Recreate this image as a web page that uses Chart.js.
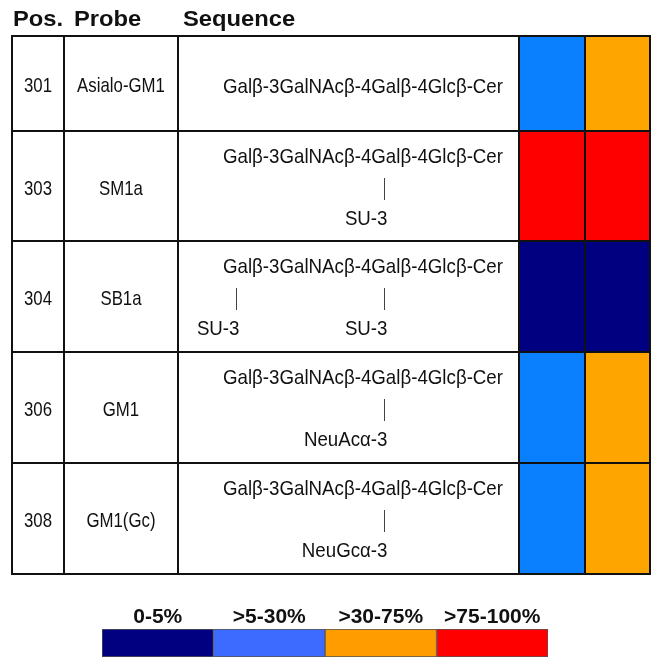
<!DOCTYPE html>
<html>
<head>
<meta charset="utf-8">
<script src="https://cdn.jsdelivr.net/npm/chart.js@4/dist/chart.umd.min.js"></script>
<style>
  html, body { margin: 0; padding: 0; background: #fff; }
  #wrap { position: relative; width: 662px; height: 669px; }
  canvas { position: absolute; left: 0; }
</style>
</head>
<body>
<div id="wrap">
  <canvas id="tableChart" width="662" height="669" style="top:0"></canvas>
  <canvas id="legendChart" width="662" height="79" style="top:590px"></canvas>
</div>
<script>
// table content
const positions = ['301', '303', '304', '306', '308'];
const probes = ['Asialo-GM1', 'SM1a', 'SB1a', 'GM1', 'GM1(Gc)'];
const residues = ['Galβ-3', 'GalNAcβ-4', 'Galβ-4', 'Glcβ-Cer'];
// [substituent, index of residue it hangs from]
const substituents = [
  [],
  [['SU-3', 2]],
  [['SU-3', 0], ['SU-3', 2]],
  [['NeuAcα-3', 2]],
  [['NeuGcα-3', 2]]
];

// binding level bin per probe, two columns
const levelsCol1 = [1, 3, 0, 1, 1];
const levelsCol2 = [2, 3, 0, 2, 2];
const binLabels = ['0-5%', '>5-30%', '>30-75%', '>75-100%'];

// styling / layout
const cellColors = ['#000080', '#0a80ff', '#ffa500', '#ff0000'];
const legendColors = ['#000080', '#3d6bff', '#ff9d00', '#ff0000'];
const rowSpan = [95, 110, 111, 111, 111];
const colLines = [12, 64, 178, 519, 585, 650];
const FONT = "'Liberation Sans', Arial, sans-serif";

let rowEdges = [0];
rowSpan.forEach(h => rowEdges.push(rowEdges[rowEdges.length - 1] + h));

function drawText(ctx, text, x, y, font, align, sx) {
  ctx.save();
  ctx.font = font;
  ctx.translate(x, y);
  ctx.scale(sx, 1);
  ctx.textAlign = align;
  ctx.textBaseline = 'middle';
  ctx.fillStyle = '#111';
  ctx.fillText(text, 0, 0);
  ctx.restore();
}

const tablePlugin = {
  id: 'tablePlugin',
  afterDatasetsDraw(chart) {
    const ctx = chart.ctx;
    const y = chart.scales.y;
    const top = y.getPixelForValue(0);
    const bottom = y.getPixelForValue(rowEdges[rowEdges.length - 1]);

    // header
    drawText(ctx, 'Pos.', 13, 20, 'bold 22px ' + FONT, 'left', 1.08);
    drawText(ctx, 'Probe', 74, 20, 'bold 22px ' + FONT, 'left', 1.08);
    drawText(ctx, 'Sequence', 183, 20, 'bold 22px ' + FONT, 'left', 1.08);

    // grid
    ctx.save();
    ctx.strokeStyle = '#111';
    ctx.lineWidth = 2;
    ctx.beginPath();
    colLines.forEach(x => { ctx.moveTo(x, top); ctx.lineTo(x, bottom); });
    rowEdges.forEach(v => {
      const py = y.getPixelForValue(v);
      ctx.moveTo(colLines[0] - 1, py);
      ctx.lineTo(colLines[colLines.length - 1] + 1, py);
    });
    ctx.stroke();
    ctx.restore();

    // sequence text
    const chain = residues.join('');
    const chainLeft = 223, chainWidth = 280;
    const seqFont = '21px ' + FONT;
    ctx.font = seqFont;
    const sx = chainWidth / ctx.measureText(chain).width;
    const gWidth = ctx.measureText('G').width;

    for (let i = 0; i < positions.length; i++) {
      const rTop = y.getPixelForValue(rowEdges[i]);
      const rBot = y.getPixelForValue(rowEdges[i + 1]);
      const mid = (rTop + rBot) / 2;

      drawText(ctx, positions[i], (colLines[0] + colLines[1]) / 2, mid + 3, '21px ' + FONT, 'center', 0.8);
      drawText(ctx, probes[i], (colLines[1] + colLines[2]) / 2, mid + 3, '21px ' + FONT, 'center', 0.8);

      const subs = substituents[i];
      const chainY = subs.length ? rTop + 26 : mid + 4;
      drawText(ctx, chain, chainLeft, chainY, seqFont, 'left', sx);

      subs.forEach(s => {
        ctx.font = seqFont;
        const prefix = residues.slice(0, s[1]).join('');
        const bx = Math.round(chainLeft + sx * (ctx.measureText(prefix).width + gWidth * 0.9)) + 0.5;
        ctx.save();
        ctx.strokeStyle = '#444';
        ctx.lineWidth = 1;
        ctx.beginPath();
        ctx.moveTo(bx, rTop + 47);
        ctx.lineTo(bx, rTop + 69);
        ctx.stroke();
        ctx.restore();
        drawText(ctx, s[0], bx + 3, rTop + 88, seqFont, 'right', sx);
      });
    }
  }
};

const rowDatasets = positions.map((p, i) => ({
  label: probes[i],
  data: [[rowEdges[i], rowEdges[i + 1]], [rowEdges[i], rowEdges[i + 1]]],
  backgroundColor: [cellColors[levelsCol1[i]], cellColors[levelsCol2[i]]],
  borderWidth: 0,
  grouped: false,
  barPercentage: 1,
  categoryPercentage: 1
}));

new Chart(document.getElementById('tableChart'), {
  type: 'bar',
  data: { labels: ['col1', 'col2'], datasets: rowDatasets },
  options: {
    responsive: false,
    animation: false,
    layout: { padding: { left: 519, right: 12, top: 36, bottom: 95 } },
    plugins: { legend: { display: false }, tooltip: { enabled: false } },
    scales: {
      x: { display: false },
      y: { display: false, reverse: true, min: 0, max: rowEdges[rowEdges.length - 1] }
    }
  },
  plugins: [tablePlugin]
});

// colour key
const legendLabelPlugin = {
  id: 'legendLabels',
  afterDatasetsDraw(chart) {
    const ctx = chart.ctx;
    const x = chart.scales.x;
    binLabels.forEach((t, i) => {
      const cx = (x.getPixelForValue(i) + x.getPixelForValue(i + 1)) / 2;
      drawText(ctx, t, cx, 27, 'bold 21px ' + FONT, 'center', 1);
    });
  }
};

new Chart(document.getElementById('legendChart'), {
  type: 'bar',
  data: {
    labels: ['key'],
    datasets: binLabels.map((t, i) => ({
      label: t,
      data: [1],
      backgroundColor: legendColors[i],
      borderColor: '#555',
      borderWidth: 1,
      borderSkipped: false,
      barPercentage: 1,
      categoryPercentage: 1
    }))
  },
  options: {
    indexAxis: 'y',
    responsive: false,
    animation: false,
    layout: { padding: { left: 102, right: 114, top: 39, bottom: 12 } },
    plugins: { legend: { display: false }, tooltip: { enabled: false } },
    scales: {
      x: { display: false, stacked: true, min: 0, max: binLabels.length },
      y: { display: false, stacked: true }
    }
  },
  plugins: [legendLabelPlugin]
});
</script>
</body>
</html>
